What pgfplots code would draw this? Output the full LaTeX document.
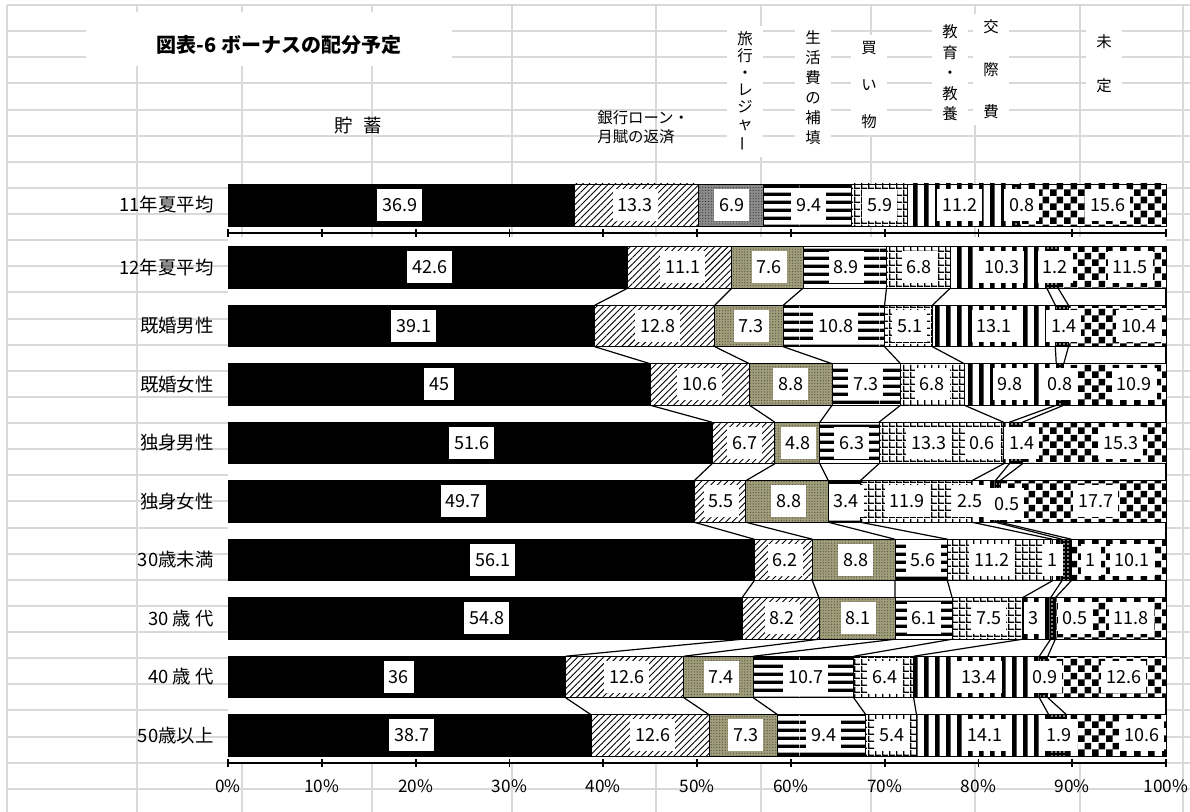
\documentclass[border=0pt]{standalone}
\usepackage{fontspec}
\setmainfont{Noto Sans CJK JP}
\usepackage{graphicx}
\usepackage{pgfplots}
\usepackage{pgfplotstable}
\pgfplotsset{compat=1.18}
\usetikzlibrary{patterns,patterns.meta}

\pgfdeclarepatternformonly{bigcheck}{\pgfpointorigin}{\pgfqpoint{7pt}{7pt}}{\pgfqpoint{7pt}{7pt}}{%
  \pgfpathrectangle{\pgfpointorigin}{\pgfqpoint{3.5pt}{3.5pt}}%
  \pgfpathrectangle{\pgfqpoint{3.5pt}{3.5pt}}{\pgfqpoint{3.5pt}{3.5pt}}%
  \pgfusepath{fill}}
\pgfdeclarepatternformonly{hstripes}{\pgfpointorigin}{\pgfqpoint{40pt}{4pt}}{\pgfqpoint{40pt}{4pt}}{%
  \pgfpathrectangle{\pgfpointorigin}{\pgfqpoint{40pt}{1.9pt}}%
  \pgfusepath{fill}}
\pgfdeclarepatternformonly{vstripes}{\pgfpointorigin}{\pgfqpoint{5.5pt}{40pt}}{\pgfqpoint{5.5pt}{40pt}}{%
  \pgfpathrectangle{\pgfpointorigin}{\pgfqpoint{2.5pt}{40pt}}%
  \pgfusepath{fill}}
\pgfdeclarepatternformonly{bgrid}{\pgfpointorigin}{\pgfqpoint{3.5pt}{3.5pt}}{\pgfqpoint{3.5pt}{3.5pt}}{%
  \pgfpathrectangle{\pgfpointorigin}{\pgfqpoint{3.5pt}{0.8pt}}%
  \pgfpathrectangle{\pgfpointorigin}{\pgfqpoint{0.8pt}{3.5pt}}%
  \pgfusepath{fill}}

\definecolor{gridc}{RGB}{217,217,217}
\definecolor{khaki}{RGB}{160,157,120}

\newcommand{\catfont}{\fontsize{9.2}{11}\selectfont}
\newcommand{\ticfont}{\fontsize{8.6}{10}\selectfont}
\newcommand{\dlfont}{\fontsize{9}{10}\selectfont}

\pgfplotsset{
 s1/.style={fill=black, draw=black},
 s2/.style={fill=white, draw=black, postaction={pattern={Lines[angle=45,distance=2.3pt,line width=0.45pt]}}},
 s3/.style={fill=khaki, draw=black, postaction={pattern={Dots[radius=0.3pt,distance=1.4pt]}, pattern color=black!70}},
 s3g/.style={fill=black!45, draw=black, postaction={pattern={Dots[radius=0.3pt,distance=1.4pt]}, pattern color=black!80}},
 s4/.style={fill=white, draw=black, postaction={pattern=hstripes}},
 s5/.style={fill=white, draw=black, postaction={pattern=bgrid}},
 s6/.style={fill=white, draw=black, postaction={pattern=vstripes}},
 s7/.style={fill=black, draw=black, postaction={pattern={Dots[radius=0.4pt,distance=2pt]}, pattern color=white}},
 s8/.style={fill=white, draw=black, postaction={pattern=bigcheck}},
 base/.style={scale only axis, width=469pt, xmin=0, xmax=100, enlargelimits=false, anchor=south west, clip=false},
 sline/.style={black, line width=0.6pt, unbounded coords=jump, forget plot, mark=none},
}

\pgfplotstableread{
x y lab
18.3 607 36.9
43.4 607 13.3
53.7 607 6.9
61.9 607 9.4
69.5 607 5.9
78.0 607 11.2
84.6 607 0.8
93.8 607 15.6
21.5 544.5 42.6
48.5 544.5 11.1
57.7 544.5 7.6
65.9 544.5 8.9
73.7 544.5 6.8
82.5 544.5 10.3
88.2 544.5 1.2
96.2 544.5 11.5
19.8 486 39.1
45.8 486 12.8
55.8 486 7.3
64.8 486 10.8
72.7 486 5.1
81.7 486 13.1
89.1 486 1.4
97.1 486 10.4
22.5 427.5 45
50.3 427.5 10.6
60.0 427.5 8.8
68.0 427.5 7.3
75.1 427.5 6.8
83.4 427.5 9.8
88.7 427.5 0.8
96.6 427.5 10.9
26.0 369 51.6
55.1 369 6.7
60.8 369 4.8
66.5 369 6.3
74.7 369 13.3
80.4 369 0.6
84.6 369 1.4
95.2 369 15.3
25.1 310.5 49.7
52.6 310.5 5.5
59.8 310.5 8.8
65.9 310.5 3.4
72.4 310.5 11.9
79.1 310.5 2.5
83.0 307.5 0.5
92.5 310.5 17.7
28.2 252 56.1
59.4 252 6.2
66.9 252 8.8
74.1 252 5.6
81.4 252 11.2
87.9 252 1
92.0 252 1
96.4 252 10.1
27.6 193.5 54.8
59.1 193.5 8.2
67.2 193.5 8.1
74.2 193.5 6.1
81.1 193.5 7.5
85.9 193.5 3
90.3 193.5 0.5
96.3 193.5 11.8
18.2 135 36
42.5 135 12.6
52.6 135 7.4
61.6 135 10.7
70.0 135 6.4
80.1 135 13.4
87.1 135 0.9
95.5 135 12.6
19.6 76.5 38.7
45.3 76.5 12.6
55.2 76.5 7.3
63.5 76.5 9.4
70.8 76.5 5.4
80.7 76.5 14.1
88.6 76.5 1.9
97.4 76.5 10.6
}\labtab

\begin{document}
\begin{tikzpicture}[x=0.5pt,y=0.5pt]
\useasboundingbox (0,0) rectangle (1190,812);
\fill[white] (0,0) rectangle (1190,812);
% spreadsheet grid
\foreach \k in {0,...,30} { \draw[gridc, line width=1pt] (7,{807-26.13*\k}) -- (1190,{807-26.13*\k}); }
\foreach \xx in {7,137,242,372,512,656,761,871,975,1080,1183} { \draw[gridc, line width=1pt] (\xx,0) -- (\xx,807); }
% title
\fill[white] (86,746) rectangle (452,800);
\node[font=\bfseries\fontsize{10}{12}\selectfont] at (279,767) {図表-6 ボーナスの配分予定};
% series headers
\node[font=\catfont] at (358,686) {貯\hspace{0.6em}蓄};
\node[font=\fontsize{7.7}{9.5}\selectfont, align=left, anchor=west, inner sep=0pt] at (597,685) {銀行ローン・\\月賦の返済};
\tikzset{vlab/.style={fill=white, inner xsep=5pt, inner ysep=3pt, align=center}}
\node[vlab, font=\fontsize{7.7}{8.5}\selectfont] at (745,720.5) {旅\\行\\・\\レ\\ジ\\ャ\\\rotatebox[origin=c]{90}{ー}};
\node[vlab, font=\fontsize{7.7}{10}\selectfont] at (813,724) {生\\活\\費\\の\\補\\填};
\node[vlab, font=\fontsize{7.7}{18.5}\selectfont] at (869,727) {買\\い\\物};
\node[vlab, font=\fontsize{7.7}{10.25}\selectfont] at (950,739) {教\\育\\・\\教\\養};
\node[vlab, font=\fontsize{7.7}{21.25}\selectfont] at (991,742.5) {交\\際\\費};
\node[vlab, font=\fontsize{7.7}{22}\selectfont] at (1104,748) {未\\定};

% ---- chart 1: 11年夏平均
\begin{axis}[base, xbar stacked, bar width=42, ymin=579, ymax=632, height=26.5pt, at={(114pt,289.5pt)},
  axis x line*=bottom, axis y line*=left, y axis line style={draw=none},
  x axis line style={line width=1.2pt},
  xtick={0,10,...,100}, xticklabels={}, tick align=center, major tick length=4pt,
  x tick style={line width=0.9pt, black},
  ytick={607}, yticklabels={11年夏平均}, y tick style={draw=none},
  yticklabel style={font=\catfont, inner sep=0pt}, yticklabel shift=5pt]
\addplot[s1] coordinates {(36.9,607)};
\addplot[s2] coordinates {(13.3,607)};
\addplot[s3g] coordinates {(6.9,607)};
\addplot[s4] coordinates {(9.4,607)};
\addplot[s5] coordinates {(5.9,607)};
\addplot[s6] coordinates {(11.2,607)};
\addplot[s7] coordinates {(0.8,607)};
\addplot[s8] coordinates {(15.6,607)};
\end{axis}

% ---- chart 2: groups
\begin{axis}[base, xbar stacked, bar width=41.5, ymin=49, ymax=575, height=263pt, at={(114pt,24.5pt)},
  axis background/.style={fill=white},
  axis x line*=bottom, axis y line*=left, y axis line style={draw=none},
  x axis line style={line width=1.2pt},
  xtick={0,10,...,100}, xticklabels={0\%,10\%,20\%,30\%,40\%,50\%,60\%,70\%,80\%,90\%,100\%},
  tick align=center, major tick length=4pt, x tick style={line width=0.9pt, black},
  xticklabel style={font=\ticfont, inner sep=0pt}, xticklabel shift=6pt,
  ytick={544.5,486,427.5,369,310.5,252,193.5,135,76.5},
  yticklabels={12年夏平均,既婚男性,既婚女性,独身男性,独身女性,30歳未満,30 歳 代,40 歳 代,50歳以上},
  y tick style={draw=none},
  yticklabel style={font=\catfont, inner sep=0pt}, yticklabel shift=5pt]
\addplot[s1] coordinates {(42.6,544.5) (39.1,486) (45,427.5) (51.6,369) (49.7,310.5) (56.1,252) (54.8,193.5) (36,135) (38.7,76.5)};
\addplot[s2] coordinates {(11.1,544.5) (12.8,486) (10.6,427.5) (6.7,369) (5.5,310.5) (6.2,252) (8.2,193.5) (12.6,135) (12.6,76.5)};
\addplot[s3] coordinates {(7.6,544.5) (7.3,486) (8.8,427.5) (4.8,369) (8.8,310.5) (8.8,252) (8.1,193.5) (7.4,135) (7.3,76.5)};
\addplot[s4] coordinates {(8.9,544.5) (10.8,486) (7.3,427.5) (6.3,369) (3.4,310.5) (5.6,252) (6.1,193.5) (10.7,135) (9.4,76.5)};
\addplot[s5] coordinates {(6.8,544.5) (5.1,486) (6.8,427.5) (13.3,369) (11.9,310.5) (11.2,252) (7.5,193.5) (6.4,135) (5.4,76.5)};
\addplot[s6] coordinates {(10.3,544.5) (13.1,486) (9.8,427.5) (0.6,369) (2.5,310.5) (1,252) (3,193.5) (13.4,135) (14.1,76.5)};
\addplot[s7] coordinates {(1.2,544.5) (1.4,486) (0.8,427.5) (1.4,369) (0.5,310.5) (1,252) (0.5,193.5) (0.9,135) (1.9,76.5)};
\addplot[s8] coordinates {(11.5,544.5) (10.4,486) (10.9,427.5) (15.3,369) (17.7,310.5) (10.1,252) (11.8,193.5) (12.6,135) (10.6,76.5)};
\end{axis}

% ---- overlay: series lines and data labels
\begin{axis}[base, ymin=49, ymax=632, height=291.5pt, at={(114pt,24.5pt)}, hide axis]
\addplot[sline] coordinates {(42.6,523.75) (39.1,506.75) (39.1,nan) (39.1,465.25) (45.0,448.25) (45.0,nan) (45.0,406.75) (51.6,389.75) (51.6,nan) (51.6,348.25) (49.7,331.25) (49.7,nan) (49.7,289.75) (56.1,272.75) (56.1,nan) (56.1,231.25) (54.8,214.25) (54.8,nan) (54.8,172.75) (36.0,155.75) (36.0,nan) (36.0,114.25) (38.7,97.25)};
\addplot[sline] coordinates {(53.7,523.75) (51.9,506.75) (51.9,nan) (51.9,465.25) (55.6,448.25) (55.6,nan) (55.6,406.75) (58.3,389.75) (58.3,nan) (58.3,348.25) (55.2,331.25) (55.2,nan) (55.2,289.75) (62.3,272.75) (62.3,nan) (62.3,231.25) (63.0,214.25) (63.0,nan) (63.0,172.75) (48.6,155.75) (48.6,nan) (48.6,114.25) (51.3,97.25)};
\addplot[sline] coordinates {(61.3,523.75) (59.2,506.75) (59.2,nan) (59.2,465.25) (64.4,448.25) (64.4,nan) (64.4,406.75) (63.1,389.75) (63.1,nan) (63.1,348.25) (64.0,331.25) (64.0,nan) (64.0,289.75) (71.1,272.75) (71.1,nan) (71.1,231.25) (71.1,214.25) (71.1,nan) (71.1,172.75) (56.0,155.75) (56.0,nan) (56.0,114.25) (58.6,97.25)};
\addplot[sline] coordinates {(70.2,523.75) (70.0,506.75) (70.0,nan) (70.0,465.25) (71.7,448.25) (71.7,nan) (71.7,406.75) (69.4,389.75) (69.4,nan) (69.4,348.25) (67.4,331.25) (67.4,nan) (67.4,289.75) (76.7,272.75) (76.7,nan) (76.7,231.25) (77.2,214.25) (77.2,nan) (77.2,172.75) (66.7,155.75) (66.7,nan) (66.7,114.25) (68.0,97.25)};
\addplot[sline] coordinates {(77.0,523.75) (75.1,506.75) (75.1,nan) (75.1,465.25) (78.5,448.25) (78.5,nan) (78.5,406.75) (82.7,389.75) (82.7,nan) (82.7,348.25) (79.3,331.25) (79.3,nan) (79.3,289.75) (87.9,272.75) (87.9,nan) (87.9,231.25) (84.7,214.25) (84.7,nan) (84.7,172.75) (73.1,155.75) (73.1,nan) (73.1,114.25) (73.4,97.25)};
\addplot[sline] coordinates {(87.3,523.75) (88.2,506.75) (88.2,nan) (88.2,465.25) (88.3,448.25) (88.3,nan) (88.3,406.75) (83.3,389.75) (83.3,nan) (83.3,348.25) (81.8,331.25) (81.8,nan) (81.8,289.75) (88.9,272.75) (88.9,nan) (88.9,231.25) (87.7,214.25) (87.7,nan) (87.7,172.75) (86.5,155.75) (86.5,nan) (86.5,114.25) (87.5,97.25)};
\addplot[sline] coordinates {(88.5,523.75) (89.6,506.75) (89.6,nan) (89.6,465.25) (89.1,448.25) (89.1,nan) (89.1,406.75) (84.7,389.75) (84.7,nan) (84.7,348.25) (82.3,331.25) (82.3,nan) (82.3,289.75) (89.9,272.75) (89.9,nan) (89.9,231.25) (88.2,214.25) (88.2,nan) (88.2,172.75) (87.4,155.75) (87.4,nan) (87.4,114.25) (89.4,97.25)};
\addplot[sline] coordinates {(100,523.75) (100,506.75) (100,nan) (100,465.25) (100,448.25) (100,nan) (100,406.75) (100,389.75) (100,nan) (100,348.25) (100,331.25) (100,nan) (100,289.75) (100,272.75) (100,nan) (100,231.25) (100,214.25) (100,nan) (100,172.75) (100,155.75) (100,nan) (100,114.25) (100,97.25)};
\addplot[draw=none, mark=none, forget plot, nodes near coords, point meta=explicit symbolic,
  nodes near coords align={center},
  every node near coord/.append style={fill=white, text=black, inner xsep=2.5pt, inner ysep=0pt, minimum height=16pt, font=\dlfont}]
  table[x=x, y=y, meta=lab] {\labtab};
\end{axis}
\end{tikzpicture}
\end{document}
